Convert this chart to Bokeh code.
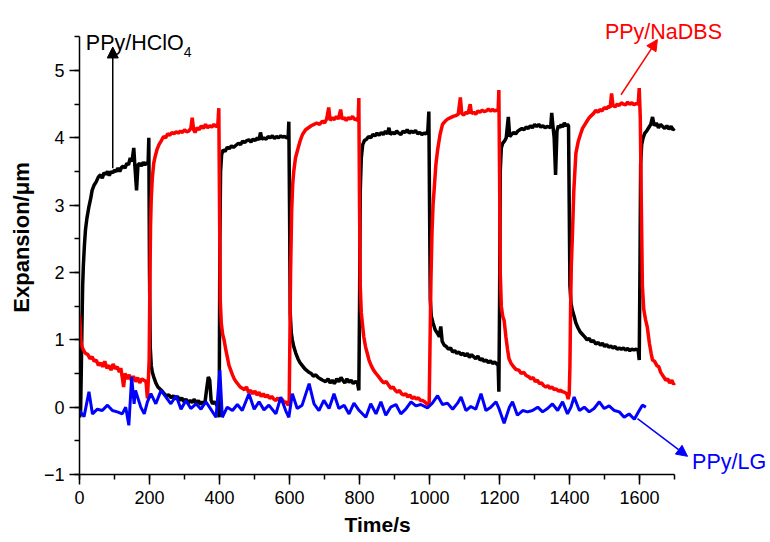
from bokeh.plotting import figure
from bokeh.models import Label, Arrow, NormalHead, SingleIntervalTicker, Title
from bokeh.embed import file_html
from bokeh.resources import INLINE

# ---------------- data ----------------
black_t = [0, 3, 5, 7, 9, 11, 14, 17, 21, 27, 32, 36, 42, 48, 54, 60, 65, 70, 75, 80, 85, 90, 95, 100,
           105, 110, 115, 120, 125, 130, 135, 140, 145, 150, 155, 158, 163, 167, 172, 177, 182, 187, 192,
           196, 198, 200, 202, 205, 208, 212, 218, 224, 230, 236, 242, 248, 255, 262, 268, 274, 280, 286,
           292, 298, 304, 310, 316, 322, 328, 334, 340, 346, 352, 358, 364, 368, 372, 376, 380, 386, 392,
           397, 399,
           401, 403, 406, 410, 416, 422, 428, 434, 440, 447, 454, 460, 466, 472, 478, 484, 490, 496, 502,
           508, 513, 517, 521, 527, 533, 539, 545, 551, 557, 563, 569, 575, 580, 586, 592, 596, 598, 600,
           602, 605, 608, 612, 618, 624, 630, 636, 642, 648, 655, 662, 668, 675, 682, 688, 695, 703, 710,
           716, 722, 728, 735, 741, 747, 752, 758, 764, 770, 776, 782, 788, 794, 798,
           800, 802, 805, 809, 814, 820, 826, 832, 838, 844, 850, 856, 862, 868, 874, 880, 884, 888, 894,
           900, 906, 912, 918, 924, 930, 936, 942, 948, 954, 960, 966, 972, 978, 984, 990, 995, 998, 1000,
           1002, 1005, 1010, 1016, 1022, 1028, 1032, 1036, 1042, 1048, 1054, 1060, 1066, 1072, 1078, 1084,
           1090, 1096, 1102, 1108, 1114, 1120, 1126, 1132, 1138, 1144, 1150, 1156, 1162, 1168, 1174, 1180,
           1186, 1192, 1196, 1198,
           1200, 1202, 1205, 1209, 1214, 1219, 1225, 1229, 1234, 1240, 1246, 1252, 1258, 1264, 1270, 1276,
           1282, 1288, 1294, 1300, 1306, 1312, 1318, 1324, 1330, 1336, 1342, 1346, 1349, 1352, 1356, 1360,
           1364, 1368, 1372, 1376, 1380, 1385, 1390, 1394, 1397, 1399,
           1401, 1404, 1408, 1413, 1418, 1424, 1430, 1437, 1444, 1450, 1456, 1462, 1468, 1475, 1482, 1488,
           1494, 1500, 1506, 1512, 1518, 1524, 1530, 1536, 1542, 1548, 1554, 1560, 1566, 1572, 1578, 1584,
           1590, 1596, 1599,
           1601, 1603, 1606, 1610, 1615, 1620, 1626, 1632, 1637, 1642, 1648, 1654, 1660, 1666, 1672, 1678,
           1684, 1690, 1695, 1700]
black_y = [-0.15, -0.1, 0.5, 1.2, 1.8, 2.1, 2.4, 2.63, 2.8, 2.98, 3.1, 3.22, 3.3, 3.35, 3.42, 3.45, 3.4,
           3.48, 3.46, 3.5, 3.44, 3.5, 3.48, 3.52, 3.5, 3.55, 3.5, 3.56, 3.58, 3.55, 3.62, 3.6, 3.7, 3.65,
           3.85, 3.6, 3.22, 3.6, 3.62, 3.58, 3.64, 3.6, 3.63, 3.62, 4.0, 2.0, 0.9, 0.62, 0.52, 0.45, 0.36,
           0.3, 0.27, 0.24, 0.2, 0.17, 0.18, 0.14, 0.17, 0.12, 0.16, 0.1, 0.14, 0.08, 0.12, 0.06, 0.1, 0.07,
           0.12, 0.05, 0.1, 0.04, 0.08, 0.05, 0.3, 0.45, 0.4, 0.1, 0.05, 0.08, 0.03, 0.0, -0.15,
           2.5, 3.5, 3.75, 3.82, 3.8, 3.86, 3.84, 3.88, 3.86, 3.89, 3.92, 3.9, 3.95, 3.93, 3.96, 3.97, 3.94,
           3.98, 3.96, 4.0, 3.97, 4.08, 3.98, 4.0, 3.98, 4.02, 4.0, 4.03, 3.99, 4.02, 4.0, 4.03, 4.01, 4.02,
           4.0, 4.0, 4.24, 3.0, 1.4, 1.1, 1.0, 0.9, 0.8, 0.72, 0.66, 0.62, 0.58, 0.55, 0.52, 0.5, 0.46, 0.48,
           0.44, 0.42, 0.4, 0.38, 0.42, 0.36, 0.4, 0.35, 0.42, 0.38, 0.44, 0.4, 0.36, 0.42, 0.37, 0.4, 0.35,
           0.38, 0.36, 0.25,
           1.5, 3.2, 3.7, 3.9, 3.96, 3.98, 4.02, 4.0, 4.05, 4.03, 4.07, 4.04, 4.08, 4.05, 4.1, 4.06, 4.15,
           4.05, 4.08, 4.06, 4.1, 4.07, 4.05, 4.1, 4.08, 4.12, 4.07, 4.1, 4.08, 4.11, 4.06, 4.08, 4.05, 4.07,
           4.06, 4.1, 4.39, 3.0, 1.6, 1.35, 1.25, 1.15, 1.1, 1.05, 1.2, 0.98, 0.92, 0.9, 0.86, 0.88, 0.82,
           0.84, 0.8, 0.82, 0.78, 0.8, 0.76, 0.8, 0.74, 0.78, 0.75, 0.72, 0.76, 0.7, 0.72, 0.68, 0.7, 0.66,
           0.69, 0.65, 0.67, 0.64, 0.62, 0.23,
           1.5, 3.5, 3.85, 3.92, 3.95, 4.0, 4.31, 4.02, 4.05, 4.08, 4.06, 4.1, 4.12, 4.14, 4.12, 4.16, 4.14,
           4.18, 4.15, 4.2, 4.17, 4.2, 4.16, 4.18, 4.15, 4.17, 4.16, 4.15, 4.37, 4.2, 4.0, 3.45, 4.1, 4.18,
           4.15, 4.2, 4.16, 4.22, 4.18, 4.2, 4.18, 3.0,
           1.8, 1.55, 1.44, 1.35, 1.25, 1.18, 1.12, 1.08, 1.04, 1.0, 1.02, 0.97, 0.99, 0.94, 0.96, 0.92,
           0.95, 0.9, 0.93, 0.89, 0.91, 0.88, 0.9, 0.86, 0.88, 0.86, 0.88, 0.85, 0.87, 0.84, 0.86, 0.85,
           0.86, 0.84, 0.7,
           2.0, 3.6, 3.9, 4.0, 4.07, 4.1, 4.15, 4.2, 4.31, 4.18, 4.22, 4.15, 4.2, 4.17, 4.14, 4.18, 4.13,
           4.17, 4.12, 4.14]

red_t = [0, 2, 4, 7, 11, 17, 24, 30, 36, 42, 48, 54, 60, 66, 72, 78, 84, 90, 96, 102, 108, 114, 118, 122,
         126, 130, 136, 142, 148, 154, 160, 166, 172, 178, 184, 190, 194, 197, 199, 201, 203, 205, 208, 212,
         216, 221, 227, 234, 240, 246, 252, 258, 264, 270, 276, 282, 288, 294, 300, 306, 312, 318, 322, 326,
         330, 336, 342, 348, 354, 360, 366, 372, 378, 384, 390, 395, 398, 400,
         402, 405, 409, 413, 418, 422, 427, 432, 437, 442, 447, 453, 459, 465, 471, 477, 483, 489, 495,
         501, 507, 513, 519, 525, 531, 537, 543, 549, 555, 561, 567, 573, 579, 585, 591, 596, 599,
         601, 603, 606, 609, 612, 617, 623, 630, 637, 646, 654, 662, 670, 678, 686, 694, 700, 706, 712,
         716, 722, 728, 734, 740, 746, 750, 756, 762, 768, 774, 780, 786, 792, 796, 798, 800,
         802, 805, 808, 812, 817, 822, 827, 833, 840, 847, 855, 862, 869, 876, 884, 890, 896, 902, 908,
         914, 920, 926, 932, 938, 944, 950, 956, 962, 968, 974, 980, 986, 992, 996, 999,
         1001, 1004, 1007, 1010, 1013, 1018, 1023, 1030, 1037, 1045, 1052, 1060, 1068, 1075, 1082, 1088,
         1092, 1098, 1104, 1110, 1116, 1120, 1126, 1132, 1138, 1144, 1150, 1156, 1162, 1168, 1174, 1180,
         1186, 1192, 1196, 1198, 1200,
         1202, 1205, 1209, 1213, 1218, 1223, 1227, 1233, 1240, 1247, 1255, 1262, 1269, 1276, 1284, 1290,
         1296, 1302, 1308, 1314, 1320, 1326, 1332, 1338, 1344, 1350, 1356, 1362, 1368, 1374, 1380, 1386,
         1392, 1396, 1399,
         1401, 1403, 1405, 1408, 1412, 1418, 1425, 1431, 1437, 1444, 1450, 1456, 1462, 1468, 1475, 1481,
         1487, 1493, 1499, 1505, 1511, 1516, 1520, 1524, 1530, 1536, 1542, 1548, 1554, 1560, 1566, 1572,
         1578, 1584, 1590, 1596, 1599, 1602, 1605,
         1608, 1612, 1617, 1622, 1628, 1633, 1637, 1643, 1649, 1655, 1660, 1665, 1670, 1675, 1680, 1686,
         1692, 1697, 1700]
red_y = [1.37, 1.2, 0.98, 0.9, 0.85, 0.8, 0.78, 0.72, 0.75, 0.68, 0.7, 0.62, 0.66, 0.6, 0.68, 0.58, 0.62,
         0.55, 0.64, 0.57, 0.6, 0.52, 0.58, 0.45, 0.3, 0.5, 0.42, 0.48, 0.4, 0.46, 0.38, 0.44, 0.36, 0.42,
         0.4, 0.38, 0.13, 0.45, 0.7, 1.8, 2.7, 3.1, 3.4, 3.62, 3.72, 3.82, 3.9, 3.96, 4.02, 4.0, 4.06, 4.04,
         4.08, 4.06, 4.09, 4.07, 4.1, 4.08, 4.12, 4.09, 4.1, 4.14, 4.3, 4.12, 4.08, 4.15, 4.12, 4.18, 4.14,
         4.2, 4.15, 4.18, 4.16, 4.2, 4.17, 4.18, 4.44, 3.0,
         1.6, 1.25, 1.08, 1.0, 0.85, 0.75, 0.62, 0.55, 0.48, 0.42, 0.38, 0.34, 0.3, 0.28, 0.26, 0.3, 0.22,
         0.25, 0.2, 0.24, 0.18, 0.22, 0.16, 0.2, 0.15, 0.18, 0.13, 0.16, 0.12, 0.1, 0.14, 0.08, 0.12, 0.06,
         0.08, 0.03, 0.05,
         1.0, 2.0, 2.9, 3.3, 3.5, 3.7, 3.82, 3.95, 4.05, 4.12, 4.15, 4.18, 4.2, 4.22, 4.2, 4.25, 4.22,
         4.28, 4.45, 4.26, 4.3, 4.27, 4.32, 4.28, 4.42, 4.28, 4.3, 4.26, 4.3, 4.28, 4.32, 4.27, 4.28, 4.25,
         4.59, 3.0,
         1.8, 1.4, 1.25, 1.05, 0.9, 0.8, 0.7, 0.62, 0.55, 0.5, 0.45, 0.4, 0.36, 0.38, 0.32, 0.28, 0.3,
         0.25, 0.22, 0.25, 0.2, 0.18, 0.2, 0.15, 0.18, 0.13, 0.15, 0.12, 0.14, 0.1, 0.1, 0.08, 0.05, 0.04,
         0.08,
         0.8, 1.9, 2.6, 3.0, 3.22, 3.6, 3.82, 4.05, 4.2, 4.25, 4.28, 4.3, 4.32, 4.33, 4.35, 4.6, 4.36,
         4.34, 4.38, 4.36, 4.5, 4.36, 4.38, 4.35, 4.4, 4.38, 4.41, 4.39, 4.4, 4.43, 4.4, 4.42, 4.4, 4.41,
         4.42, 4.71, 3.5,
         2.0, 1.5, 1.35, 1.29, 1.05, 0.85, 0.72, 0.65, 0.6, 0.56, 0.55, 0.5, 0.52, 0.47, 0.45, 0.42, 0.44,
         0.38, 0.4, 0.35, 0.36, 0.32, 0.3, 0.32, 0.28, 0.3, 0.26, 0.27, 0.24, 0.25, 0.23, 0.22, 0.2, 0.12,
         0.2,
         0.6, 1.5, 2.1, 2.53, 3.2, 3.77, 3.95, 4.05, 4.14, 4.2, 4.25, 4.3, 4.33, 4.36, 4.41, 4.38, 4.42,
         4.4, 4.45, 4.43, 4.47, 4.45, 4.66, 4.48, 4.46, 4.5, 4.48, 4.52, 4.5, 4.49, 4.53, 4.5, 4.52, 4.49,
         4.51, 4.5, 4.74, 4.3, 3.0,
         1.8, 1.45, 1.3, 1.19, 0.95, 0.8, 0.7, 0.68, 0.62, 0.6, 0.52, 0.48, 0.44, 0.4, 0.42, 0.36, 0.4,
         0.34, 0.36]

blue_t = [0, 13, 27, 37, 51, 65, 80, 94, 108, 122, 132, 141, 149, 156, 160, 175, 185, 194, 204, 218, 233,
          247, 261, 276, 290, 304, 318, 333, 347, 361, 375, 390, 401, 408, 422, 437, 451, 465, 484, 499,
          513, 527, 541, 561, 575, 589, 598, 608, 622, 636, 656, 670, 684, 698, 713, 727, 741, 756, 770,
          784, 799, 818, 832, 847, 861, 875, 889, 904, 918, 932, 947, 961, 975, 994, 1008, 1023, 1037,
          1051, 1066, 1080, 1090, 1104, 1118, 1132, 1147, 1161, 1175, 1190, 1199, 1213, 1228, 1237, 1251,
          1266, 1280, 1294, 1309, 1323, 1337, 1351, 1366, 1380, 1394, 1404, 1413, 1428, 1442, 1456, 1470,
          1485, 1499, 1513, 1528, 1542, 1556, 1570, 1585, 1599, 1608, 1618]
blue_y = [-0.05, -0.14, 0.23, -0.1, -0.03, -0.05, 0.03, -0.05, -0.07, -0.1, 0.0, -0.27, 0.45, 0.05, 0.25,
          0.0, -0.1, 0.08, 0.2, 0.05, 0.25, 0.15, 0.05, 0.17, -0.03, 0.1, -0.02, 0.05, -0.03, 0.08, -0.03,
          -0.15, 0.55, -0.15, 0.0, -0.05, 0.04, -0.05, 0.2, -0.03, 0.08, -0.04, 0.03, -0.1, 0.15, -0.05,
          -0.15, 0.2, -0.02, 0.03, 0.35, 0.05, -0.05, 0.1, -0.02, 0.2, -0.02, 0.03, -0.1, 0.06, -0.05,
          -0.15, 0.05, -0.1, 0.08, -0.12, 0.0, 0.04, -0.1, -0.03, 0.08, 0.02, 0.04, -0.01, 0.06, 0.17,
          0.04, 0.06, -0.03, 0.06, 0.15, -0.05, 0.01, -0.03, 0.2, -0.05, 0.0, 0.08, -0.03, -0.24, 0.0,
          0.08, -0.12, -0.05, -0.07, -0.05, 0.0, -0.07, -0.02, 0.05, -0.05, 0.08, -0.1, 0.0, 0.15, -0.05,
          0.0, -0.07, -0.02, 0.08, -0.02, 0.02, -0.05, -0.07, -0.15, -0.1, -0.18, -0.05, 0.03, 0.0]

x_ticks_interval = 200
y_ticks_interval = 1

# ---------------- figure ----------------
FONT = "Liberation Sans"
p = figure(width=770, height=542, x_range=(0, 1974), y_range=(-1, 6.04),
           output_backend="svg", toolbar_location=None,
           min_border_left=79, min_border_right=0, min_border_top=0, min_border_bottom=68)
p.outline_line_color = None
p.grid.visible = False
p.background_fill_color = "white"

p.line(black_t, black_y, color="black", line_width=3.5)
p.line(red_t, red_y, color="red", line_width=3.5)
p.line(blue_t, blue_y, color="blue", line_width=3)

for ax in (p.xaxis[0], p.yaxis[0]):
    ax.axis_line_width = 1.5
    ax.major_tick_line_width = 1.5
    ax.minor_tick_line_width = 1.5
    ax.major_tick_in = 0
    ax.minor_tick_in = 0
    ax.major_tick_out = 10
    ax.minor_tick_out = 5
    ax.major_label_text_font = FONT
    ax.major_label_text_font_size = "18px"
    ax.major_label_text_color = "black"
    ax.axis_label_text_font = FONT
    ax.axis_label_text_font_style = "bold"
    ax.axis_label_text_color = "black"

p.xaxis[0].ticker = SingleIntervalTicker(interval=x_ticks_interval, num_minor_ticks=2)
p.yaxis[0].ticker = SingleIntervalTicker(interval=y_ticks_interval, num_minor_ticks=2)
p.yaxis[0].bounds = (-1, 5.5)
p.xaxis[0].bounds = (0, 1700)
p.yaxis[0].axis_label = "Expansion/\u03bcm"
p.yaxis[0].axis_label_text_font_size = "22px"
p.xaxis[0].major_label_standoff = 6
p.yaxis[0].major_label_standoff = 5
p.yaxis[0].axis_label_standoff = 7

p.add_layout(Title(text="Time/s", align="left", offset=265, standoff=8,
                   text_font=FONT, text_font_style="bold", text_font_size="21px",
                   text_color="black"), "below")

# ---------------- annotations ----------------
lab_size = "21.5px"
p.add_layout(Arrow(end=NormalHead(size=11, fill_color="black", line_color="black"),
                   x_start=95, y_start=3.55, x_end=95, y_end=5.35,
                   line_color="black", line_width=1.5))
p.add_layout(Label(x=18, y=5.41, text="PPy/HClO", text_font=FONT, text_font_size=lab_size,
                   text_color="black", text_baseline="alphabetic"))
p.add_layout(Label(x=298, y=5.27, text="4", text_font=FONT, text_font_size="14px",
                   text_color="black", text_baseline="alphabetic"))

p.add_layout(Arrow(end=NormalHead(size=11, fill_color="red", line_color="red"),
                   x_start=1547, y_start=4.64, x_end=1651, y_end=5.46,
                   line_color="red", line_width=1.5))
p.add_layout(Label(x=1501, y=5.57, text="PPy/NaDBS", text_font=FONT, text_font_size=lab_size,
                   text_color="red", text_baseline="alphabetic"))

p.add_layout(Arrow(end=NormalHead(size=11, fill_color="blue", line_color="blue"),
                   x_start=1594, y_start=-0.17, x_end=1737, y_end=-0.73,
                   line_color="blue", line_width=1.5))
p.add_layout(Label(x=1750, y=-0.82, text="PPy/LG", text_font=FONT, text_font_size=lab_size,
                   text_color="blue", text_baseline="alphabetic"))

open("out.html", "w").write(file_html(p, INLINE))
